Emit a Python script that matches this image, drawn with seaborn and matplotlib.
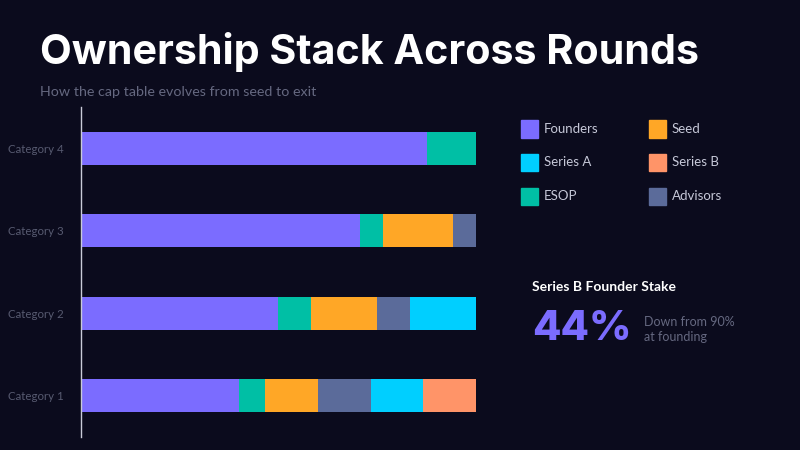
import matplotlib
matplotlib.use("Agg")
import matplotlib.pyplot as plt
from matplotlib.patches import Rectangle
import pandas as pd
import seaborn as sns

# rounds (top to bottom) and raw ownership units per holder
categories = ["Category 4", "Category 3", "Category 2", "Category 1"]
founders = [70, 60, 60, 60]
esop = [10, 5, 10, 10]
seed = [0, 15, 20, 20]
advisors = [0, 5, 10, 20]
series_a = [0, 0, 20, 20]
series_b = [0, 0, 0, 20]

series_names = ["Founders", "ESOP", "Seed", "Advisors", "Series A", "Series B"]
colors = {
    "Founders": "#7B6CFF",
    "ESOP": "#00BFA5",
    "Seed": "#FFA726",
    "Advisors": "#5B6B9A",
    "Series A": "#00CFFF",
    "Series B": "#FF9468",
}

BG = "#0B0B1D"

df = pd.DataFrame({
    "round": categories,
    "Founders": founders,
    "ESOP": esop,
    "Seed": seed,
    "Advisors": advisors,
    "Series A": series_a,
    "Series B": series_b,
})
# share of each round's total
shares = df[series_names].div(df[series_names].sum(axis=1), axis=0) * 100
cum = shares.cumsum(axis=1)
cum["round"] = df["round"]

sns.set_theme(style="dark")
plt.rcParams["font.family"] = ["Lato", "DejaVu Sans"]

fig = plt.figure(figsize=(8, 4.5), dpi=100, facecolor=BG)
ax = fig.add_axes([0.101, 0.029, 0.494, 0.733])
ax.set_facecolor(BG)

# draw cumulative bars back to front so each segment sits on the next
for name in reversed(series_names):
    sns.barplot(data=cum, x=name, y="round", order=categories,
                color=colors[name], width=0.4, saturation=1,
                linewidth=0, ax=ax)

ax.set_xlim(0, 100)
ax.set_ylim(3.5, -0.5)
ax.set_xlabel("")
ax.set_ylabel("")
ax.set_xticks([])
ax.grid(False)
for s in ["top", "right", "bottom"]:
    ax.spines[s].set_visible(False)
ax.spines["left"].set_color("#c9cbd8")
ax.spines["left"].set_linewidth(1)
ax.tick_params(axis="y", length=0, pad=12, labelsize=8.3, labelcolor="#575a70")

# title and subtitle
fig.text(0.05, 0.858, "Ownership Stack Across Rounds", color="white",
         fontsize=29.7, fontweight="bold", family=["Inter", "DejaVu Sans"])
fig.text(0.05, 0.787, "How the cap table evolves from seed to exit",
         color="#656880", fontsize=10.3)

# legend as a 2-column grid
legend_rows = [("Founders", "Seed"), ("Series A", "Series B"), ("ESOP", "Advisors")]
row_y = [129, 162, 196]
col_x = [521, 649]
for (left_name, right_name), yc in zip(legend_rows, row_y):
    for name, xs in zip((left_name, right_name), col_x):
        fig.patches.append(Rectangle((xs / 800, 1 - (yc + 8.5) / 450), 17 / 800, 17 / 450,
                                     transform=fig.transFigure, color=colors[name]))
        fig.text((xs + 23) / 800, 1 - yc / 450, name, color="#c6c8d8",
                 fontsize=9.5, va="center")

# KPI callout
fig.text(532 / 800, 1 - 287 / 450, "Series B Founder Stake", color="white",
         fontsize=10, fontweight="bold", va="center")
fig.text(532 / 800, 1 - 329 / 450, "44%", color="#7B6CFF", fontsize=29.8,
         fontweight="heavy", va="center", family=["Inter", "DejaVu Sans"])
fig.text(644 / 800, 1 - 322 / 450, "Down from 90%", color="#656880",
         fontsize=9, va="center")
fig.text(644 / 800, 1 - 337 / 450, "at founding", color="#656880",
         fontsize=9, va="center")

fig.savefig("out.png", dpi=100, facecolor=BG)
